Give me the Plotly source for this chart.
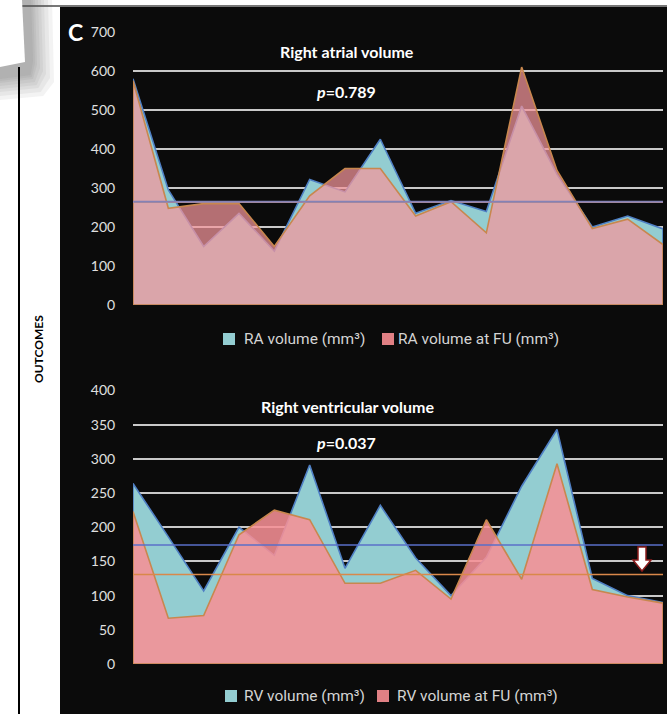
import plotly.graph_objects as go

# ---- data -------------------------------------------------------------
patients = list(range(16))

ra_volume = [580, 295, 150, 235, 138, 322, 290, 425, 235, 268, 240, 510, 335, 200, 228, 195]
ra_volume_fu = [575, 248, 260, 260, 150, 280, 350, 350, 228, 265, 185, 610, 345, 196, 220, 155]
ra_ref_blue = 265
ra_ref_orange = 263

rv_volume = [264, 186, 107, 200, 159, 291, 140, 232, 155, 100, 156, 260, 343, 125, 100, 90]
rv_volume_fu = [223, 67, 71, 189, 225, 211, 118, 118, 137, 95, 211, 124, 293, 109, 98, 89]
rv_ref_blue = 174
rv_ref_orange = 131

ra_ticks = [0, 100, 200, 300, 400, 500, 600, 700]
rv_ticks = [0, 50, 100, 150, 200, 250, 300, 350, 400]

ra_title = "Right atrial volume"
ra_p = "<i>p</i>=0.789"
rv_title = "Right ventricular volume"
rv_p = "<i>p</i>=0.037"
ra_legend = ["RA volume (mm³)", "RA volume at FU (mm³)"]
rv_legend = ["RV volume (mm³)", "RV volume at FU (mm³)"]

# ---- page geometry (pixels) --------------------------------------------
W, H = 667, 714


def fx(x):
    return x / W


def fy(y):
    return 1 - y / H


TEAL = "rgb(147,205,209)"
BLUE_EDGE = "#4f7fc4"
ORANGE_EDGE = "#c8874e"
PINK_TOP = "rgba(245,150,155,0.72)"
PINK_BOTTOM = "rgba(247,144,149,0.87)"
GRID = "#c9c9c9"
TICK_FONT = dict(family="Lato, 'Open Sans', sans-serif", size=14, color="#e0e0e0")
HEAD = "Lato, Roboto, sans-serif"

fig = go.Figure()


def closed(xs, ys):
    return [xs[0]] + list(xs) + [xs[-1], xs[0]], [0] + list(ys) + [0, 0]


def add_panel(xa, ya, base, fu, ref_b, ref_o, pink, ref_blue_col, ref_orange_col, ref_orange_w):
    bx, by = closed(patients, base)
    fig.add_trace(go.Scatter(x=bx, y=by, mode="lines", fill="toself", fillcolor=TEAL,
                             line=dict(color=BLUE_EDGE, width=1.6), xaxis=xa, yaxis=ya,
                             hoverinfo="skip", showlegend=False))
    ux, uy = closed(patients, fu)
    fig.add_trace(go.Scatter(x=ux, y=uy, mode="lines", fill="toself", fillcolor=pink,
                             line=dict(color=ORANGE_EDGE, width=1.6), xaxis=xa, yaxis=ya,
                             hoverinfo="skip", showlegend=False))
    fig.add_trace(go.Scatter(x=[patients[0], patients[-1]], y=[ref_o, ref_o], mode="lines",
                             line=dict(color=ref_orange_col, width=ref_orange_w), xaxis=xa, yaxis=ya,
                             hoverinfo="skip", showlegend=False))
    fig.add_trace(go.Scatter(x=[patients[0], patients[-1]], y=[ref_b, ref_b], mode="lines",
                             line=dict(color=ref_blue_col, width=1.6), xaxis=xa, yaxis=ya,
                             hoverinfo="skip", showlegend=False))


add_panel("x", "y", ra_volume, ra_volume_fu, ra_ref_blue, ra_ref_orange, PINK_TOP,
          "#8482b6", "#b88a8c", 1.2)
add_panel("x2", "y2", rv_volume, rv_volume_fu, rv_ref_blue, rv_ref_orange, PINK_BOTTOM,
          "#5a6fc8", "#d9884a", 1.4)

x_dom = [fx(133), fx(663)]
xcommon = dict(range=[patients[0], patients[-1]], domain=x_dom, showgrid=False, automargin=False,
               showticklabels=False, zeroline=False, showline=False, fixedrange=True)
ycommon = dict(showgrid=True, gridcolor=GRID, gridwidth=1.5, zeroline=False, showline=False,
               ticks="outside", ticklen=14, tickcolor="rgba(0,0,0,0)", tickfont=TICK_FONT,
               automargin=False, fixedrange=True)

fig.update_layout(
    width=W, height=H,
    margin=dict(l=0, r=0, t=0, b=0, pad=0, autoexpand=False),
    paper_bgcolor="white",
    plot_bgcolor="rgba(0,0,0,0)",
    showlegend=False,
    xaxis=dict(**xcommon, anchor="y"),
    yaxis=dict(**ycommon, range=[0, 700], tickvals=ra_ticks, domain=[fy(305), fy(32)], anchor="x"),
    xaxis2=dict(**xcommon, anchor="y2"),
    yaxis2=dict(**ycommon, range=[0, 400], tickvals=rv_ticks, domain=[fy(664), fy(390.5)], anchor="x2"),
)


def poly(pts):
    return "M " + " L ".join(f"{fx(px)},{fy(py)}" for px, py in pts) + " Z"


shapes = []
# black panel behind both charts
shapes.append(dict(type="rect", xref="paper", yref="paper", x0=fx(60), x1=fx(667), y0=fy(714), y1=fy(7),
                   fillcolor="#0b0b0b", line=dict(width=0), layer="below"))
# thin rule along the top
shapes.append(dict(type="line", xref="paper", yref="paper", x0=fx(20), x1=fx(667), y0=fy(6), y1=fy(6),
                   line=dict(color="#4a4a4a", width=1.5), layer="below"))
# soft drop shadow of the corner tab, built from stacked translucent layers
for e in [22, 18, 14, 11, 8, 5, 3, 1]:
    pts = [(0, 0), (30 + e, 0), (32 + e, 60 + e), (30 + e * 0.6, 74 + e), (0, 78 + e)]
    shapes.append(dict(type="path", xref="paper", yref="paper", path=poly(pts),
                       fillcolor="#5a5a5a", opacity=0.07, line=dict(width=0), layer="below"))
# the white tab itself
shapes.append(dict(type="path", xref="paper", yref="paper", path=poly([(0, 0), (22, 0), (25, 62), (0, 67)]),
                   fillcolor="white", line=dict(width=0), layer="below"))
# vertical rule on the left
shapes.append(dict(type="line", xref="paper", yref="paper", x0=fx(19), x1=fx(19), y0=fy(714), y1=fy(67),
                   line=dict(color="black", width=2), layer="below"))

# legend swatches
for x0, y0, col in [(223, 333, TEAL), (382, 333, "rgb(224,128,132)"),
                    (225, 690, TEAL), (377, 690, "rgb(224,128,132)")]:
    shapes.append(dict(type="rect", xref="paper", yref="paper", x0=fx(x0), x1=fx(x0 + 12),
                       y0=fy(y0 + 12), y1=fy(y0), fillcolor=col, line=dict(width=0), layer="above"))

# downward arrow marker in the lower chart
arrow = [(638, 547), (646, 547), (646, 560), (651, 560), (642, 571), (633, 560), (638, 560)]
shapes.append(dict(type="path", xref="paper", yref="paper", path=poly(arrow),
                   fillcolor="white", line=dict(color="#8c1c1c", width=1.5), layer="above"))

fig.update_layout(shapes=shapes)

ann = []


def text(x, y, s, size, color="white", family=HEAD, anchor="center", angle=0, bold=False):
    ann.append(dict(xref="paper", yref="paper", x=fx(x), y=fy(y), text=f"<b>{s}</b>" if bold else s,
                    showarrow=False, xanchor=anchor, yanchor="middle", textangle=angle,
                    font=dict(family=family, size=size, color=color)))


text(75, 32, "C", 23, bold=True)
text(347, 52, ra_title, 16, bold=True)
text(346, 91, ra_p, 16, bold=True)
text(347, 406, rv_title, 16, bold=True)
text(346, 442, rv_p, 16, bold=True)
text(38, 349, "OUTCOMES", 12, color="black", angle=-90, bold=True)

LEG_FONT = "Roboto, 'Noto Sans', sans-serif"
text(242, 339, ra_legend[0], 15.5, color="#d4d4d4", family=LEG_FONT, anchor="left")
text(396, 339, ra_legend[1], 15.5, color="#d4d4d4", family=LEG_FONT, anchor="left")
text(242, 696, rv_legend[0], 15.5, color="#d4d4d4", family=LEG_FONT, anchor="left")
text(395, 696, rv_legend[1], 15.5, color="#d4d4d4", family=LEG_FONT, anchor="left")

fig.update_layout(annotations=ann)

fig.write_html("out.html")
